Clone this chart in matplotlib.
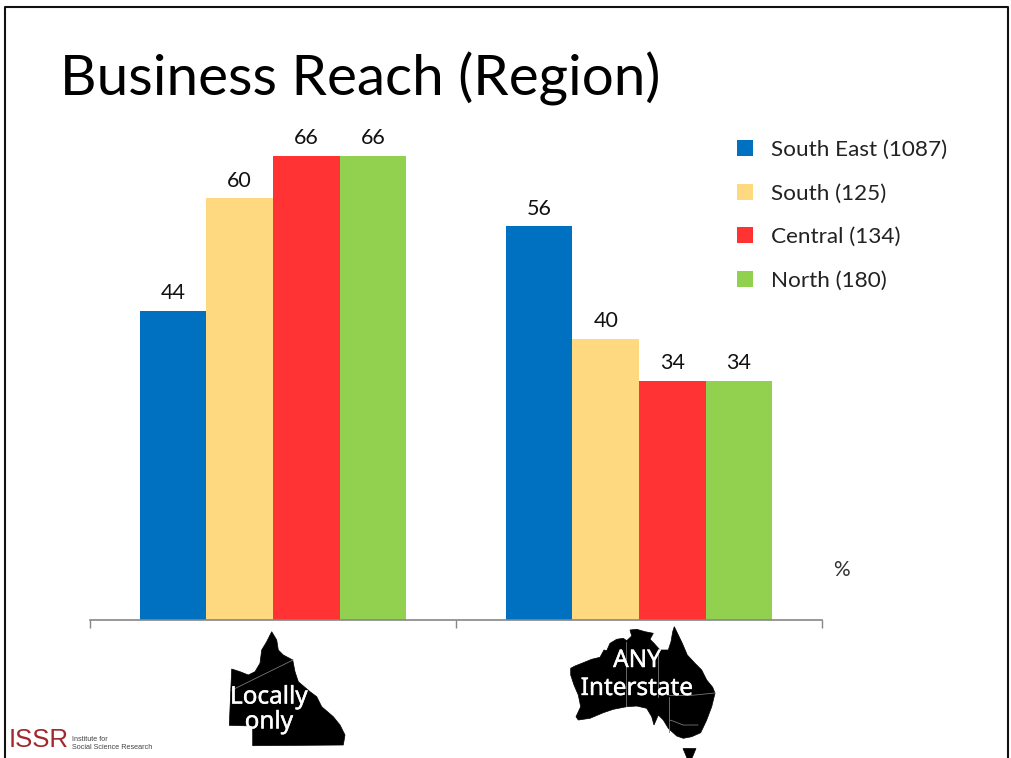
import matplotlib
matplotlib.use("Agg")
import matplotlib.pyplot as plt
import matplotlib.patheffects as pe
from matplotlib.lines import Line2D
from matplotlib.patches import Polygon
import numpy as np

W, H = 1011, 758

categories = ["Locally\nonly", "ANY\nInterstate"]
regions = ["South East (1087)", "South (125)", "Central (134)", "North (180)"]
south_east = [44, 56]
south = [60, 40]
central = [66, 34]
north = [66, 34]
series = [south_east, south, central, north]
colors = ["#0070C0", "#FFD97F", "#FF3333", "#92D050"]

# Outlines of the two map icons, in pixels from the top-left of the slide
queensland = [(231.7, 669), (240, 671.7), (248.3, 675), (255, 671.7), (260, 663.3), (261.7, 650),
              (266.7, 641.7), (271.7, 631.7), (276.7, 640), (278.3, 650), (283.3, 655), (292.7, 660),
              (295, 671.7), (298.3, 681.7), (310, 691.7), (316.7, 696.7), (321.7, 706.7),
              (333.3, 716.7), (340, 725), (345, 735), (343.3, 745), (252.7, 745.7), (252.7, 726),
              (229.3, 725.3)]
australia = [(570.7, 668.3), (575, 666), (583.3, 662.7), (591.7, 659.3), (600, 657.3), (604, 650),
             (606.7, 650.7), (610, 643.3), (616.7, 639.3), (623.3, 638.3), (626.7, 640.7),
             (631.7, 636), (630, 630), (636.7, 629.3), (645, 631.7), (653.3, 633.3), (650, 639.3),
             (654, 643.3), (660, 650), (668.3, 650), (671, 641.7), (672.7, 631.7), (674.3, 626.7),
             (678.3, 635), (682.3, 643.3), (687.3, 655), (695, 663.3), (701.7, 670), (706.7, 680),
             (712.7, 687.3), (715, 693.3), (711.7, 706.7), (706.7, 720), (700.7, 732.7),
             (691.7, 736.7), (683.3, 738.3), (676.7, 736), (668.3, 728.3), (663.3, 720),
             (658.3, 715), (654, 725), (651.7, 716.7), (646.7, 708.3), (636.7, 706), (626.7, 706.7),
             (613.3, 709.3), (603.3, 712.7), (590, 718.3), (578.3, 720), (576, 716.7),
             (580.7, 706.7), (578.3, 695), (574, 685), (570.7, 675)]
tasmania = [(683, 748.5), (696, 748.5), (692, 758), (687, 758)]
state_borders = [
    [(625.7, 642), (625.7, 706)],
    [(658.3, 652), (658.3, 697)],
    [(669.3, 697), (669.3, 732)],
    [(669.3, 695.5), (690, 695.5), (715, 693)],
    [(669.3, 720), (673, 721), (683, 725), (698, 725)],
    [(232, 690), (293, 660)],
]

plt.rcParams["font.family"] = ["Lato", "DejaVu Sans"]
fig = plt.figure(figsize=(W / 100, H / 100), dpi=100, facecolor="white")

# Full-slide layer in pixel units for the frame, map icons and logo
bg = fig.add_axes([0, 0, 1, 1], zorder=0)
bg.set_xlim(0, W)
bg.set_ylim(H, 0)
bg.axis("off")
bg.plot([4.5, 4.5, 1008, 1008], [H, 6.5, 6.5, H], color="#111111", lw=1.5, clip_on=False)
for outline in (queensland, australia, tasmania):
    bg.add_patch(Polygon(outline, closed=True, fc="black", ec="black", lw=0.5))
for border in state_borders:
    xs, ys = zip(*border)
    bg.plot(xs, ys, color="#777777", lw=0.6)

bg.text(60, 95, "Business Reach (Region)", fontsize=40.8, color="black", va="baseline", ha="left")
bg.text(9, 740, "ISSR", family="Liberation Sans", fontsize=18.5, color="#A0282E", va="center", ha="left")
bg.text(72, 743.5, "Institute for\nSocial Science Research", family="Liberation Sans",
        fontsize=5.2, color="#444444", va="center", ha="left", linespacing=1.05)
bg.text(841, 570, "%", fontsize=15, color="#333333", ha="center", va="center")

# Bar chart, placed so that one unit on the value axis spans about 7 pixels
left, right, base, top = 90, 822, 620, 120
ax = fig.add_axes([left / W, 1 - base / H, (right - left) / W, (base - top) / H], zorder=1)
ax.patch.set_alpha(0)
ax.set_xlim(-0.5, 1.5)
ax.set_ylim(0, (base - top) / 7.03)

x = np.arange(len(categories))
bar_w = 0.182
for i, (values, color) in enumerate(zip(series, colors)):
    pos = x + (i - 1.5) * bar_w
    ax.bar(pos, values, width=bar_w, color=color, linewidth=0)
    for px, v in zip(pos, values):
        ax.annotate(str(v), (px, v), xytext=(0, 5.5), textcoords="offset points",
                    ha="center", va="bottom", fontsize=15.5, color="#111111")

for side in ("top", "right", "left"):
    ax.spines[side].set_visible(False)
ax.spines["bottom"].set_color("#868686")
ax.spines["bottom"].set_linewidth(1.2)
ax.set_yticks([])
ax.set_xticks([-0.5, 0.5, 1.5])
ax.set_xticklabels([])
ax.tick_params(axis="x", length=6, width=1, color="#868686")

# Category names sit in white on top of the map icons
label_style = dict(xycoords=("data", "axes fraction"), textcoords="offset pixels",
                   ha="center", va="center", color="white",
                   family="Noto Sans", fontsize=17.5, annotation_clip=False,
                   path_effects=[pe.withStroke(linewidth=0.3, foreground="white")])
ax.annotate(categories[0], (0, 0), xytext=(-4, -90), linespacing=1.05, **label_style)
ax.annotate(categories[1], (1, 0), xytext=(-2, -55), linespacing=1.22, **label_style)

handles = [Line2D([], [], marker="s", ls="none", color=c, markersize=11, markeredgewidth=0)
           for c in colors]
ax.legend(handles, regions, loc="upper left", bbox_to_anchor=(733.5 / W, 1 - 140 / H),
          bbox_transform=fig.transFigure, frameon=False, fontsize=16.2, labelspacing=1.05,
          handlelength=1.0, handletextpad=0.68, borderpad=0, borderaxespad=0,
          labelcolor="#222222")

fig.savefig("out.png", dpi=100, facecolor="white")
